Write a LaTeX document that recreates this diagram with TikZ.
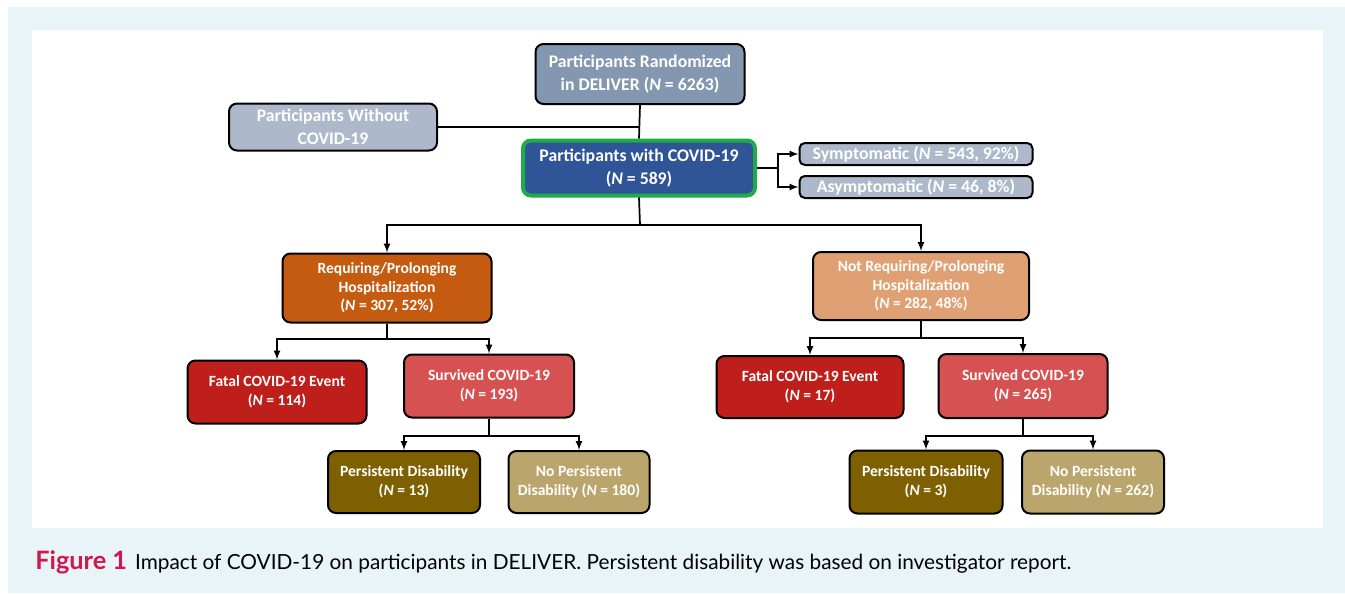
\documentclass[tikz,border=0pt]{standalone}
\usepackage{fontspec}
\setmainfont{Carlito}
\newfontfamily\capfont{Lato}
\usetikzlibrary{positioning,calc,arrows}

\definecolor{bgblue}{HTML}{E8F4F7}
\definecolor{randc}{HTML}{8497B0}
\definecolor{greyc}{HTML}{ADB9CA}
\definecolor{withc}{HTML}{2F5597}
\definecolor{greenc}{HTML}{1FAA4B}
\definecolor{reqc}{HTML}{C55A11}
\definecolor{notreqc}{HTML}{DFA173}
\definecolor{fatalc}{HTML}{BE1F1B}
\definecolor{survc}{HTML}{D65151}
\definecolor{pdc}{HTML}{7F6000}
\definecolor{npdc}{HTML}{BAA66C}
\definecolor{figc}{HTML}{D2174F}

\tikzset{
	box/.style={draw=black,line width=1.5pt,rounded corners=6pt,text=white,
		font=\bfseries\fontsize{11.7}{14}\selectfont,align=center,inner sep=0pt},
	big/.style={font=\bfseries\fontsize{13.3}{17}\selectfont},
	sz/.style 2 args={minimum width=#1*0.75pt,minimum height=#2*0.75pt},
	ln/.style={-,line width=1.3pt},
	arr/.style={-latex,line width=1.3pt}
}
\newcommand{\NN}{\textit{N}}

\begin{document}
\begin{tikzpicture}[x=0.75pt,y=-0.75pt]
\useasboundingbox (0,0) rectangle (1345,593);
\fill[bgblue] (8,7) rectangle (1345,593);
\fill[white] (32,30) rectangle (1323,528);

% top part
\node[box,big,sz={209}{60},fill=randc] (rand) at (640,74) {Participants Randomized\\ in DELIVER (\NN{} = 6263)};
\node[box,big,sz={208}{47},fill=greyc] (without) at (333,127) {Participants Without\\COVID-19};
\node[box,big,sz={232}{55},fill=withc,draw=greenc,line width=3pt] (with) at (639,168) {Participants with COVID-19\\(\NN{} = 589)};
\node[box,big,sz={233}{22},fill=greyc,rounded corners=4pt] (sym) at (916,154) {Symptomatic (\NN{} = 543, 92\%)};
\node[box,big,sz={233}{22},fill=greyc,rounded corners=4pt] (asym) at (916,187) {Asymptomatic (\NN{} = 46, 8\%)};

% hospitalization
\node[box,sz={209}{69},fill=reqc] (req) at (387,288) {Requiring/Prolonging\\Hospitalization\\(\NN{} = 307, 52\%)};
\node[box,sz={216}{68},fill=notreqc] (notreq) at (921,286) {Not Requiring/Prolonging\\Hospitalization\\(\NN{} = 282, 48\%)};

% outcome
\node[box,sz={179}{63},fill=fatalc] (fatalL) at (277,392) {Fatal COVID-19 Event\\(\NN{} = 114)};
\node[box,sz={170}{63},fill=survc] (survL) at (489,386) {Survived COVID-19\\(\NN{} = 193)};
\node[box,sz={187}{62},fill=fatalc] (fatalR) at (810,387) {Fatal COVID-19 Event\\(\NN{} = 17)};
\node[box,sz={169}{64},fill=survc] (survR) at (1023,386) {Survived COVID-19\\(\NN{} = 265)};

% disability
\node[box,sz={152}{62},fill=pdc] (pdL) at (404,482) {Persistent Disability\\(\NN{} = 13)};
\node[box,sz={141}{62},fill=npdc] (npdL) at (579,482) {No Persistent\\Disability (\NN{} = 180)};
\node[box,sz={153}{63},fill=pdc] (pdR) at (926,482) {Persistent Disability\\(\NN{} = 3)};
\node[box,sz={142}{63},fill=npdc] (npdR) at (1093,482) {No Persistent\\Disability (\NN{} = 262)};

% connectors
\draw[ln] (rand.south) -- (with.north);
\draw[ln] (without.east) -- (rand.south |- without.east);
\coordinate (s1) at (778,168);
\draw[ln] (with.east) -- (s1);
\foreach \t in {sym,asym}
	\draw[arr] (s1) |- (\t.west);

\coordinate (s2) at (640,225);
\coordinate (s3) at (387,339);
\coordinate (s4) at (921,338);
\coordinate (s5) at (489,436);
\coordinate (s6) at (1023,436);
\foreach \x/\y in {with/s2,req/s3,notreq/s4,survL/s5,survR/s6}
	\draw[ln] (\x.south) -- (\y);
\foreach \x/\y in {s2/req,s2/notreq,s3/fatalL,s3/survL,s4/fatalR,s4/survR,s5/pdL,s5/npdL,s6/pdR,s6/npdR}
	\draw[arr] (\x) -| (\y.north);

% caption
\node[anchor=west,inner sep=0pt,font=\capfont\fontsize{15.6}{18}\selectfont] (cap) at (35,562)
	{\textcolor{figc}{\bfseries\fontsize{19}{18}\selectfont Figure 1}\hspace{6pt}Impact of COVID-19 on participants in DELIVER. Persistent disability was based on investigator report.};

\end{tikzpicture}
\end{document}
